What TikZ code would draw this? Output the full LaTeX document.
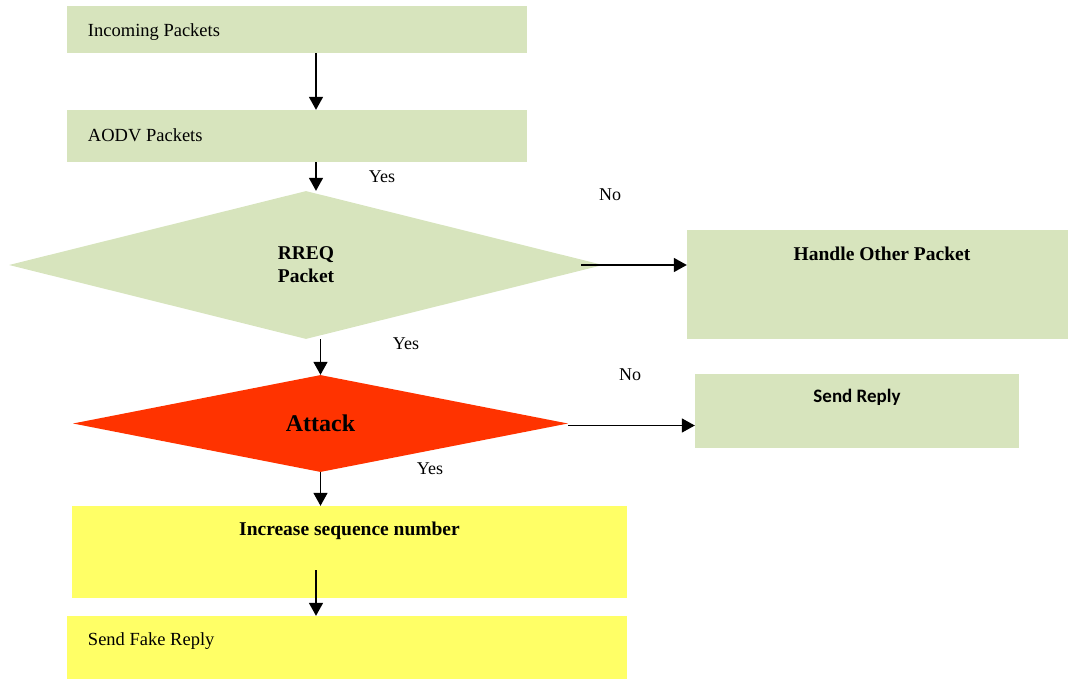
\documentclass[tikz,border=0pt]{standalone}
\usepackage{fontspec}
\setmainfont{Liberation Serif}
\newfontfamily\calib{Carlito}
\usetikzlibrary{shapes.geometric,arrows.meta}
\definecolor{boxgreen}{HTML}{D7E4BD}
\definecolor{boxyellow}{HTML}{FFFF66}
\definecolor{attackred}{HTML}{FF3300}
\tikzset{
  gbox/.style={rectangle,fill=boxgreen,draw=none,inner sep=0pt},
  ybox/.style={rectangle,fill=boxyellow,draw=none,inner sep=0pt},
  regtext/.style={font=\fontsize{18.5bp}{21bp}\selectfont,inner sep=0pt},
  boldtext/.style={font=\fontsize{19.5bp}{23bp}\selectfont\bfseries,inner sep=0pt},
  lbl/.style={font=\fontsize{18bp}{20bp}\selectfont,inner sep=0pt},
  arr/.style={line width=1.6bp,-{Triangle[length=13bp,width=14bp]}},
  dec/.style={diamond,inner sep=0pt,draw=none}
}
\begin{document}
\begin{tikzpicture}[x=1bp,y=-1bp]
\useasboundingbox (0,0) rectangle (1068,679);
% boxes
\node[gbox,minimum width=460bp,minimum height=47bp] (inc) at (297,29.5) {};
\node[regtext,anchor=west] (inct) at ([xshift=21bp,yshift=-2.5bp]inc.west) {Incoming Packets};
\node[gbox,minimum width=460bp,minimum height=52bp] (aodv) at (297,136) {};
\node[regtext,anchor=west] (aodvt) at ([xshift=21bp,yshift=1bp]aodv.west) {AODV Packets};
\node[dec,fill=boxgreen,minimum width=594bp,minimum height=148bp,boldtext,align=center] (rreq) at (306,265) {RREQ\\Packet};
\node[gbox,minimum width=381bp,minimum height=109bp] (handle) at (877.5,284.5) {};
\node[boldtext] (handlet) at ([xshift=4.5bp,yshift=-24bp]handle.north) {Handle Other Packet};
\node[dec,fill=attackred,minimum width=495bp,minimum height=97bp,font=\fontsize{24bp}{26bp}\selectfont\bfseries] (attack) at (320.5,423.5) {\raisebox{-2bp}{Attack}};
\node[gbox,minimum width=324bp,minimum height=74bp] (reply) at (857,411) {};
\node[font=\calib\fontsize{19bp}{22bp}\selectfont\bfseries,inner sep=0pt] (replyt) at ([yshift=-24bp]reply.north) {Send Reply};
\node[ybox,minimum width=555bp,minimum height=92bp] (seq) at (349.5,552) {};
\node[boldtext] (seqt) at ([yshift=-25bp]seq.north) {Increase sequence number};
\node[ybox,minimum width=560bp,minimum height=63bp] (fake) at (347,647.5) {};
\node[regtext,anchor=west] (faket) at ([xshift=21bp,yshift=6.5bp]fake.west) {Send Fake Reply};
% labels
\node[lbl] (y1) at (382,177) {Yes};
\node[lbl] (n1) at (610,195) {No};
\node[lbl] (y2) at (406,344) {Yes};
\node[lbl] (n2) at (630,375) {No};
\node[lbl] (y3) at (430,469) {Yes};
% connectors
\coordinate (attout) at ([yshift=-2bp]attack.east);
\draw[arr] ([xshift=19bp]inc.south) -- ([xshift=19bp]aodv.north);
\draw[arr] ([xshift=19bp]aodv.south) -- ([xshift=19bp]aodv.south |- rreq.north);
\draw[arr] ([xshift=-22bp]rreq.east) -- (handle.west |- rreq.east);
\draw[arr] (rreq.south -| attack.north) -- (attack.north);
\draw[arr] (attout) -- (reply.west |- attout);
\draw[arr] (attack.south) -- (attack.south |- seq.north);
\draw[arr] ([xshift=-33.5bp,yshift=-18bp]seq.center) -- ([xshift=-33.5bp]seq.center |- fake.north);
\end{tikzpicture}
\end{document}
